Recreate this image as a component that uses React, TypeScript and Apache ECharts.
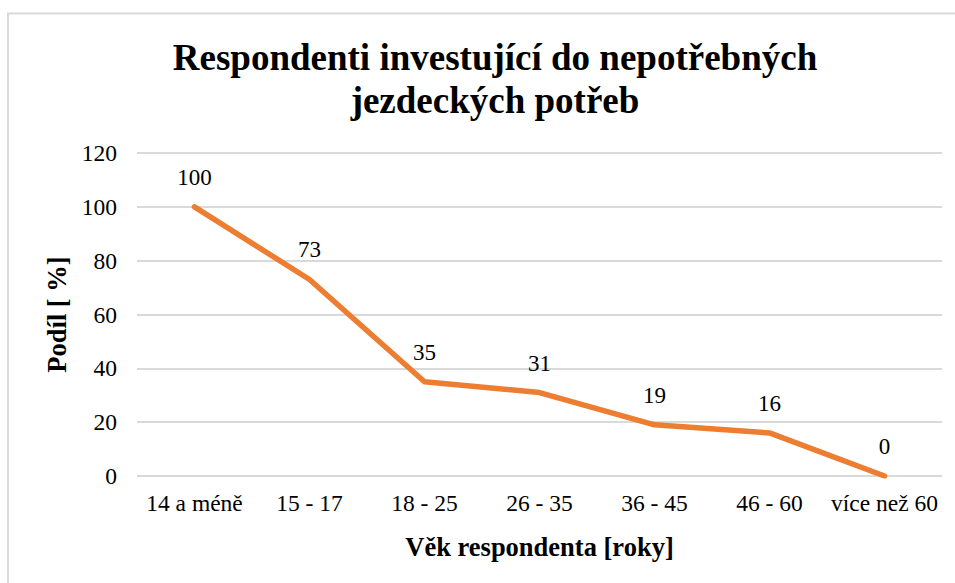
import React, { useEffect, useRef } from "react";
import * as echarts from "echarts";

const categories = ["14 a méně", "15 - 17", "18 - 25", "26 - 35", "36 - 45", "46 - 60", "více než 60"];
const values = [100, 73, 35, 31, 19, 16, 0];
const titleText = "Respondenti investující do nepotřebných\njezdeckých potřeb";
const yAxisName = "Podíl [ %]";
const xAxisName = "Věk respondenta [roky]";

const FONT = "Liberation Serif";

export default function App() {
  const ref = useRef<HTMLDivElement>(null);
  useEffect(() => {
    if (!ref.current) return;
    const chart = echarts.init(ref.current, null, { renderer: "svg" });
    chart.setOption({
      animation: false,
      backgroundColor: "#ffffff",
      textStyle: { fontFamily: FONT },
      title: {
        text: titleText,
        left: 490,
        textAlign: "center",
        top: 31,
        textStyle: {
          fontFamily: FONT,
          fontWeight: "bold",
          fontSize: 37,
          lineHeight: 43,
          color: "#000",
        },
      },
      graphic: [
        {
          type: "rect",
          shape: { x: 8, y: 13.5, width: 980, height: 620 },
          style: { fill: "none", stroke: "#d9d9d9", lineWidth: 2 },
          silent: true,
        },
      ],
      grid: { left: 137, right: 13, top: 153, bottom: 107 },
      xAxis: {
        type: "category",
        data: categories,
        boundaryGap: true,
        axisLine: { show: false },
        axisTick: { show: false },
        axisLabel: { fontFamily: FONT, fontSize: 23.5, color: "#000", margin: 15, interval: 0 },
        name: xAxisName,
        nameLocation: "middle",
        nameGap: 57,
        nameTextStyle: { fontFamily: FONT, fontWeight: "bold", fontSize: 26.5, color: "#000" },
      },
      yAxis: {
        type: "value",
        min: 0,
        max: 120,
        interval: 20,
        axisLine: { show: false },
        axisTick: { show: false },
        splitLine: { lineStyle: { color: "#d9d9d9", width: 2 } },
        axisLabel: { fontFamily: FONT, fontSize: 23.5, color: "#000", margin: 20 },
        name: yAxisName,
        nameLocation: "middle",
        nameGap: 64,
        nameRotate: 90,
        nameTextStyle: { fontFamily: FONT, fontWeight: "bold", fontSize: 26.5, color: "#000" },
      },
      series: [
        {
          type: "line",
          data: values,
          showSymbol: true,
          symbol: "circle",
          symbolSize: 0.1,
          lineStyle: { color: "#ED7D31", width: 5.5, cap: "round", join: "round" },
          itemStyle: { color: "#ED7D31" },
          label: {
            show: true,
            position: "top",
            distance: 18,
            fontFamily: FONT,
            fontSize: 23,
            color: "#000",
          },
        },
      ],
    });
    return () => chart.dispose();
  }, []);
  return (
    <div
      ref={ref}
      style={{ position: "absolute", left: 0, top: 0, width: 955, height: 583 }}
    />
  );
}
